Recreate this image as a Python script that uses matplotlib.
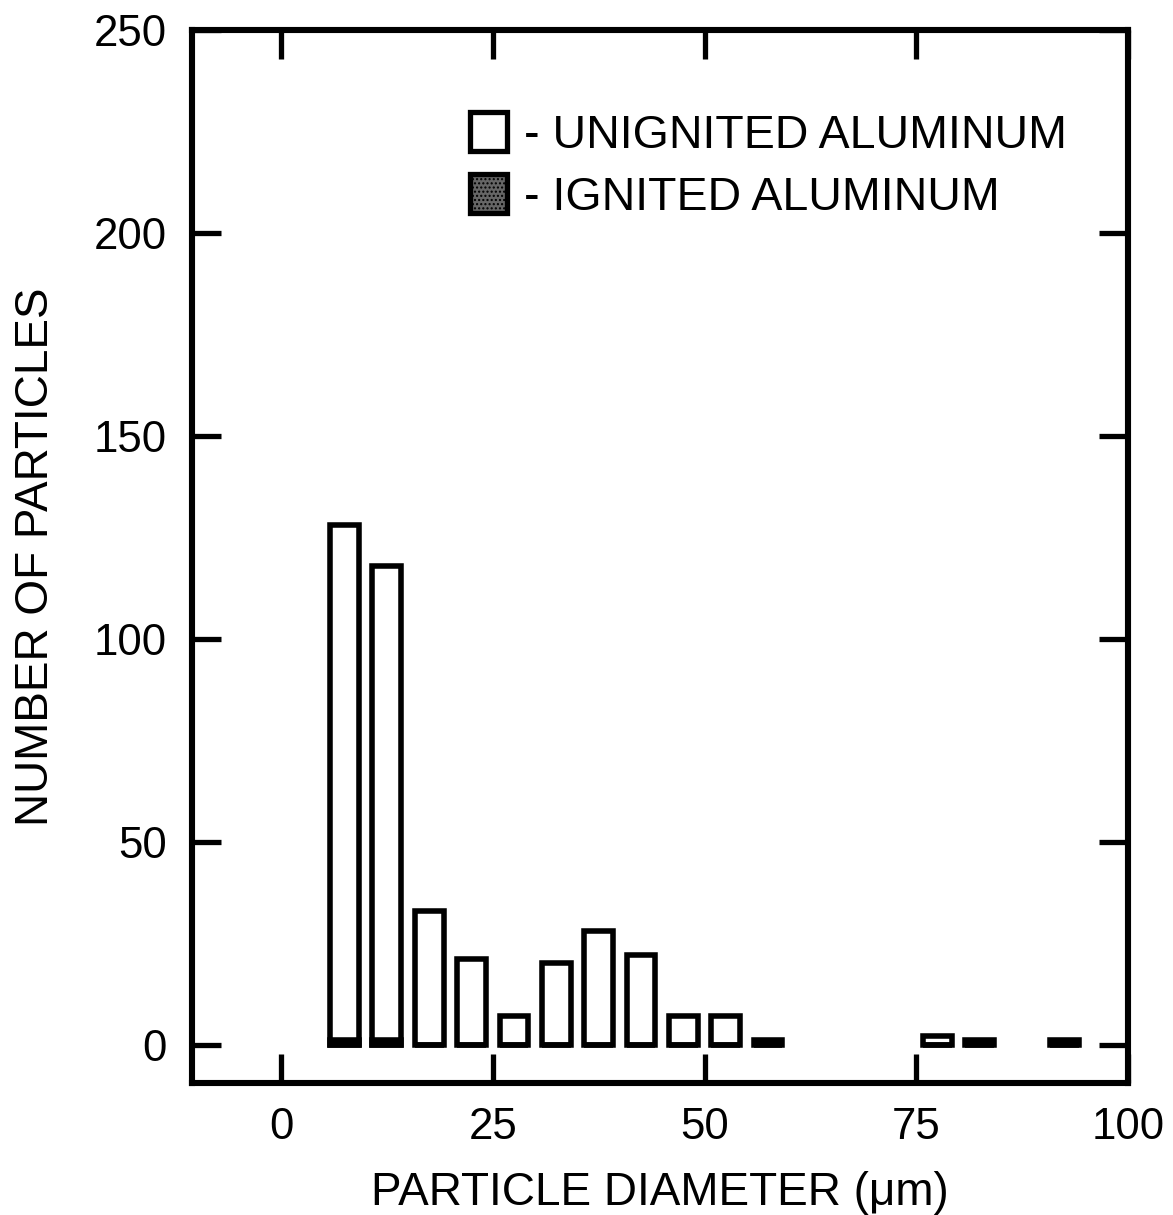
import matplotlib.pyplot as plt
from matplotlib.patches import Patch

plt.rcParams['font.family'] = ['Liberation Sans', 'DejaVu Sans']

# particle counts per 5 um diameter bin
bin_centers = [7.5, 12.5, 17.5, 22.5, 27.5, 32.5, 37.5, 42.5, 47.5, 52.5,
               57.5, 77.5, 82.5, 92.5]
unignited = [128, 118, 33, 21, 7, 20, 28, 22, 7, 7, 1, 2, 1, 1]
ignited = [1, 1, 0, 0, 0, 0, 0, 0, 0, 0, 0, 0, 0, 0]

x_ticks = [0, 25, 50, 75, 100]
y_ticks = [0, 50, 100, 150, 200, 250]

fig = plt.figure(figsize=(11.73, 12.15), dpi=100)
ax = fig.add_axes([0.1637, 0.1086, 0.798, 0.8667])

ax.bar(bin_centers, unignited, width=3.4, facecolor='white',
       edgecolor='black', linewidth=4, zorder=2)
ax.bar(bin_centers, ignited, width=3.4, facecolor='#666666',
       edgecolor='black', linewidth=4, hatch='....', zorder=3)

ax.set_xlim(-10.5, 100)
ax.set_ylim(-9.5, 250)
ax.set_xticks(x_ticks)
ax.set_yticks(y_ticks)
ax.tick_params(axis='both', direction='in', length=21, width=3.8,
               labelsize=31.5, top=True, right=True)
ax.tick_params(axis='x', pad=17)
ax.tick_params(axis='y', pad=18)
for s in ax.spines.values():
    s.set_linewidth(4.4)

ax.set_xlabel('PARTICLE DIAMETER (\u03bcm)', fontsize=33, labelpad=17)
ax.set_ylabel('NUMBER OF PARTICLES', fontsize=33, labelpad=26)

handles = [Patch(facecolor='white', edgecolor='black', linewidth=3.8),
           Patch(facecolor='#666666', edgecolor='black', linewidth=3.8,
                 hatch='....')]
ax.legend(handles, ['- UNIGNITED ALUMINUM', '- IGNITED ALUMINUM'],
          loc='upper left', bbox_to_anchor=(0.297, 0.922), frameon=False,
          fontsize=33.5, handlelength=0.8, handleheight=0.9,
          handletextpad=0.35, labelspacing=0.36, borderpad=0,
          borderaxespad=0)

fig.savefig('out.png', dpi=100)
